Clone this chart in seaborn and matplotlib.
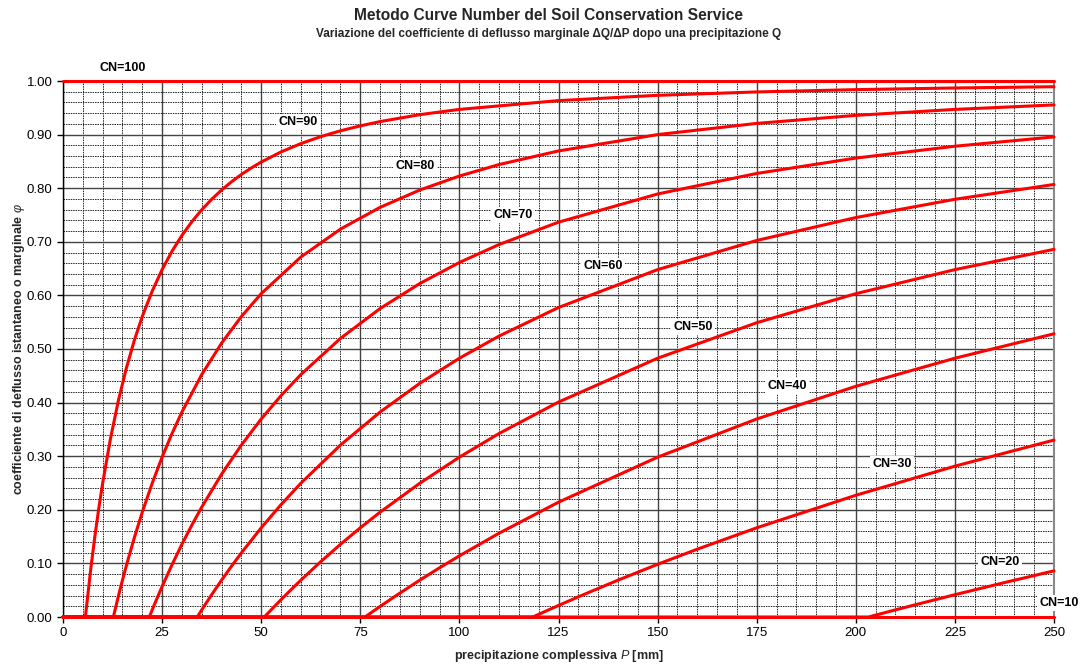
import matplotlib
matplotlib.use('Agg')
import numpy as np
import pandas as pd
import matplotlib.pyplot as plt
import seaborn as sns
from matplotlib.ticker import MultipleLocator, FormatStrFormatter

sns.set_style('white')
plt.rcParams['font.family'] = ['Liberation Sans', 'DejaVu Sans']
plt.rcParams['mathtext.fontset'] = 'custom'
plt.rcParams['mathtext.it'] = 'Liberation Sans:italic'
plt.rcParams['mathtext.rm'] = 'Liberation Sans'

# ---- data (P in mm, phi = dQ/dP) ----
p_cn100 = [0, 250]
phi_cn100 = [1.0, 1.0]

p_cn90 = [0, 5.644, 7, 8, 9, 10, 12, 14, 16, 18, 20, 22.5, 25, 27.5, 30, 32.5, 35, 37.5, 40,
          42.5, 45, 47.5, 50, 55, 60, 65, 70, 75, 80, 90, 100, 125, 150, 175, 200, 225, 250]
phi_cn90 = [0, 0, 0.0896, 0.1482, 0.2013, 0.2495, 0.3338, 0.4047, 0.4648, 0.5163, 0.5607,
            0.6080, 0.6481, 0.6824, 0.7119, 0.7374, 0.7598, 0.7793, 0.7966, 0.8119, 0.8256,
            0.8378, 0.8488, 0.8677, 0.8832, 0.8962, 0.9071, 0.9163, 0.9243, 0.9372, 0.9470,
            0.9634, 0.9733, 0.9796, 0.9839, 0.9870, 0.9893]

p_cn80 = [0, 12.7, 14, 15, 16, 18, 20, 22.5, 25, 27.5, 30, 35, 40, 45, 50, 60, 70, 80, 90,
          100, 110, 125, 150, 175, 200, 225, 250]
phi_cn80 = [0, 0, 0.0397, 0.0687, 0.0964, 0.1481, 0.1956, 0.2495, 0.2982, 0.3423, 0.3824,
            0.4523, 0.5109, 0.5606, 0.6032, 0.6716, 0.7237, 0.7643, 0.7966, 0.8227, 0.8441,
            0.8695, 0.9000, 0.9209, 0.9359, 0.9470, 0.9554]

p_cn70 = [0, 21.77, 23, 24, 25, 27.5, 30, 32.5, 35, 40, 45, 50, 55, 60, 70, 80, 90, 100,
          110, 125, 150, 175, 200, 225, 250]
phi_cn70 = [0, 0, 0.0222, 0.0397, 0.0568, 0.0975, 0.1356, 0.1714, 0.2050, 0.2663, 0.3208,
            0.3694, 0.4130, 0.4523, 0.5198, 0.5755, 0.6221, 0.6614, 0.6949, 0.7366, 0.7892,
            0.8275, 0.8562, 0.8783, 0.8957]

p_cn60 = [0, 33.87, 35, 36, 37.5, 40, 42.5, 45, 50, 55, 60, 70, 80, 90, 100, 110, 125, 150,
          175, 200, 225, 250]
phi_cn60 = [0, 0, 0.0133, 0.0247, 0.0416, 0.0687, 0.0947, 0.1196, 0.1664, 0.2096, 0.2495,
            0.3208, 0.3824, 0.4359, 0.4828, 0.5241, 0.5774, 0.6481, 0.7025, 0.7452, 0.7793,
            0.8070]

p_cn50 = [0, 50.8, 52, 53, 55, 57.5, 60, 65, 70, 75, 80, 90, 100, 110, 125, 150, 175, 200,
          225, 250]
phi_cn50 = [0, 0, 0.0094, 0.0171, 0.0323, 0.0507, 0.0687, 0.1031, 0.1356, 0.1664, 0.1956,
            0.2495, 0.2982, 0.3423, 0.4010, 0.4828, 0.5490, 0.6032, 0.6481, 0.6859]

p_cn40 = [0, 76.2, 78, 80, 82.5, 85, 90, 95, 100, 110, 125, 150, 175, 200, 225, 250]
phi_cn40 = [0, 0, 0.0094, 0.0197, 0.0323, 0.0446, 0.0687, 0.0918, 0.1141, 0.1563, 0.2142,
            0.2982, 0.3694, 0.4304, 0.4828, 0.5284]

p_cn30 = [0, 118.53, 120, 122.5, 125, 130, 140, 150, 160, 175, 200, 225, 250]
phi_cn30 = [0, 0, 0.0049, 0.0133, 0.0215, 0.0376, 0.0687, 0.0983, 0.1265, 0.1664, 0.2271,
            0.2814, 0.3301]

p_cn20 = [0, 203.2, 205, 210, 215, 225, 237.5, 250]
phi_cn20 = [0, 0, 0.0035, 0.0133, 0.0228, 0.0416, 0.0642, 0.0861]

p_cn10 = [0, 250]
phi_cn10 = [0, 0]

curve_names = ['CN=100', 'CN=90', 'CN=80', 'CN=70', 'CN=60', 'CN=50', 'CN=40', 'CN=30',
               'CN=20', 'CN=10']
curve_p = [p_cn100, p_cn90, p_cn80, p_cn70, p_cn60, p_cn50, p_cn40, p_cn30, p_cn20, p_cn10]
curve_phi = [phi_cn100, phi_cn90, phi_cn80, phi_cn70, phi_cn60, phi_cn50, phi_cn40,
             phi_cn30, phi_cn20, phi_cn10]

# label anchor positions (data coords)
label_x = [9.3, 59.3, 88.8, 113.5, 136.2, 158.9, 182.6, 209.1, 236.4, 251.3]
label_y = [1.024, 0.923, 0.841, 0.750, 0.655, 0.541, 0.431, 0.285, 0.103, 0.026]

frames = []
for name, ps, ys in zip(curve_names, curve_p, curve_phi):
    frames.append(pd.DataFrame({'P': ps, 'phi': ys, 'CN': name}))
df = pd.concat(frames, ignore_index=True)

fig = plt.figure(figsize=(10.86, 6.65), dpi=100)
ax = fig.add_axes([63 / 1086, 48 / 665, 991 / 1086, 536 / 665])

ax.set_xlim(0, 250)
ax.set_ylim(0, 1.0)
ax.xaxis.set_major_locator(MultipleLocator(25))
ax.xaxis.set_minor_locator(MultipleLocator(5))
ax.yaxis.set_major_locator(MultipleLocator(0.1))
ax.yaxis.set_minor_locator(MultipleLocator(0.02))
ax.yaxis.set_major_formatter(FormatStrFormatter('%.2f'))

ax.grid(which='major', color='#444444', linewidth=1.0, linestyle='-', zorder=0)
ax.grid(which='minor', color='#222222', linewidth=0.7, linestyle=(0, (1.5, 1.0)), zorder=0)
ax.set_axisbelow(True)

sns.lineplot(data=df, x='P', y='phi', units='CN', estimator=None, sort=False,
             color='#ff0000', linewidth=2.2, ax=ax, zorder=3, clip_on=False)

for name, lx, ly in zip(curve_names, label_x, label_y):
    ha = 'left' if name == 'CN=100' else 'center'
    ax.text(lx, ly, name, ha=ha, va='center', fontsize=9, fontweight='bold',
            color='black', zorder=5, clip_on=False,
            bbox=dict(facecolor='white', edgecolor='none', pad=1.5))

for side in ['left', 'bottom']:
    ax.spines[side].set_color('black')
    ax.spines[side].set_linewidth(1.0)
ax.spines['right'].set_color('#888888')
ax.spines['right'].set_linewidth(1.5)
ax.spines['top'].set_visible(False)

ax.tick_params(axis='both', which='major', direction='out', length=4, width=1,
               labelsize=9.5, colors='black', bottom=True, left=True)
ax.tick_params(axis='both', which='minor', length=0)

ax.set_xlabel('precipitazione complessiva $P$ [mm]', fontsize=9, fontweight='bold',
              labelpad=6)
ax.set_ylabel('coefficiente di deflusso istantaneo o marginale $\\varphi$', fontsize=9,
              fontweight='bold', labelpad=0)

fig.text(549 / 1086, 1 - 15 / 665, 'Metodo Curve Number del Soil Conservation Service',
         ha='center', va='center', fontsize=11.2, fontweight='bold')
fig.text(549 / 1086, 1 - 34 / 665,
         'Variazione del coefficiente di deflusso marginale \u0394Q/\u0394P dopo una precipitazione Q',
         ha='center', va='center', fontsize=8.5, fontweight='bold')

fig.savefig('out.png', dpi=100)
